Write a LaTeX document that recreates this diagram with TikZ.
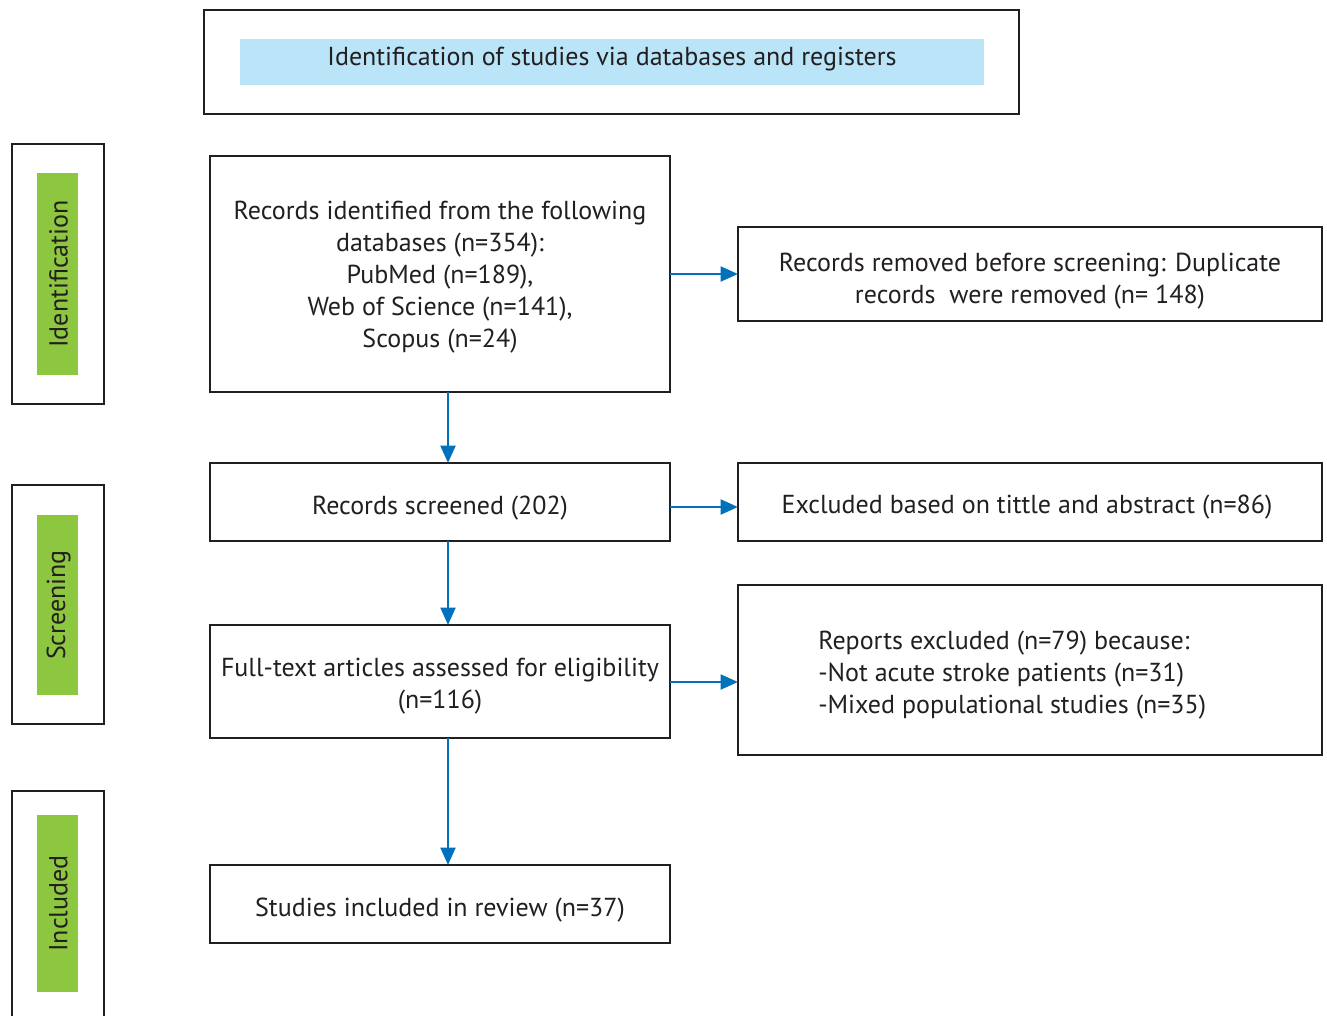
\documentclass[tikz,border=0pt]{standalone}
\usepackage{fontspec}
\setmainfont{PT Sans}
\usetikzlibrary{arrows.meta}
\definecolor{frame}{HTML}{231F20}
\definecolor{arrowblue}{HTML}{0072BC}
\definecolor{lightblue}{HTML}{BAE4F7}
\definecolor{labgreen}{HTML}{8DC63F}
\tikzset{
  px/.style={x=0.75pt,y=-0.75pt},
  boxframe/.style={draw=frame,line width=2.2pt,fill=white},
  txt/.style={font=\fontsize{19.5}{24}\selectfont,text=frame,align=center,inner sep=0pt},
  flow/.style={draw=arrowblue,line width=2.2pt,-{Triangle[length=13pt,width=11pt]}},
}
\begin{document}
\begin{tikzpicture}[px]
\useasboundingbox (0,0) rectangle (1327,1015);
% header
\draw[boxframe] (204,10) rectangle (1019,114);
\fill[lightblue] (240,39) rectangle (984,85);
\node[txt] (head) at (612,59) {Identification of studies via databases and registers};
% side labels
\draw[boxframe] (12,144) rectangle (104,404);
\fill[labgreen] (37,173) rectangle (78,375);
\node[txt,rotate=90] (lid) at (58.5,274) {Identification};
\draw[boxframe] (12,485) rectangle (104,724);
\fill[labgreen] (37,515) rectangle (78,695);
\node[txt,rotate=90] (lsc) at (58.5,605) {Screening};
\draw[boxframe] (12,1030) -- (12,791) -- (104,791) -- (104,1030);
\fill[labgreen] (37,815) rectangle (78,992);
\node[txt,rotate=90] (lin) at (58.5,903.5) {Included};
% main boxes
\draw[boxframe] (210,156) rectangle (670,392);
\node[txt] (b1) at (440,277) {Records identified from the following\\databases (n=354):\\PubMed (n=189),\\Web of Science (n=141),\\Scopus (n=24)};
\draw[boxframe] (738,227) rectangle (1322,321);
\node[txt] (r1) at (1030,281) {Records removed before screening: Duplicate\\records\ \ were removed (n= 148)};
\draw[boxframe] (210,463) rectangle (670,541);
\node[txt] (b2) at (440,508) {Records screened (202)};
\draw[boxframe] (738,463) rectangle (1322,541);
\node[txt] (r2) at (1027,507) {Excluded based on tittle and abstract (n=86)};
\draw[boxframe] (210,625) rectangle (670,738);
\node[txt] (b3) at (440,686) {Full-text articles assessed for eligibility\\(n=116)};
\draw[boxframe] (738,585) rectangle (1322,755);
\node[txt,align=left,anchor=west] (r3) at (818,675) {Reports excluded (n=79) because:\\-Not acute stroke patients (n=31)\\-Mixed populational studies (n=35)};
\draw[boxframe] (210,865) rectangle (670,943);
\node[txt] (b4) at (440,910) {Studies included in review (n=37)};
% anchor coordinates for connectors
\coordinate (b1s) at (448,392); \coordinate (b2n) at (448,463);
\coordinate (b2s) at (448,541); \coordinate (b3n) at (448,625);
\coordinate (b3s) at (448,738); \coordinate (b4n) at (448,865);
\coordinate (b1e) at (670,274); \coordinate (r1w) at (738,274);
\coordinate (b2e) at (670,507); \coordinate (r2w) at (738,507);
\coordinate (b3e) at (670,682); \coordinate (r3w) at (738,682);
\draw[flow] (b1s) -- (b2n);
\draw[flow] (b2s) -- (b3n);
\draw[flow] (b3s) -- (b4n);
\draw[flow] (b1e) -- (r1w);
\draw[flow] (b2e) -- (r2w);
\draw[flow] (b3e) -- (r3w);
\end{tikzpicture}
\end{document}
